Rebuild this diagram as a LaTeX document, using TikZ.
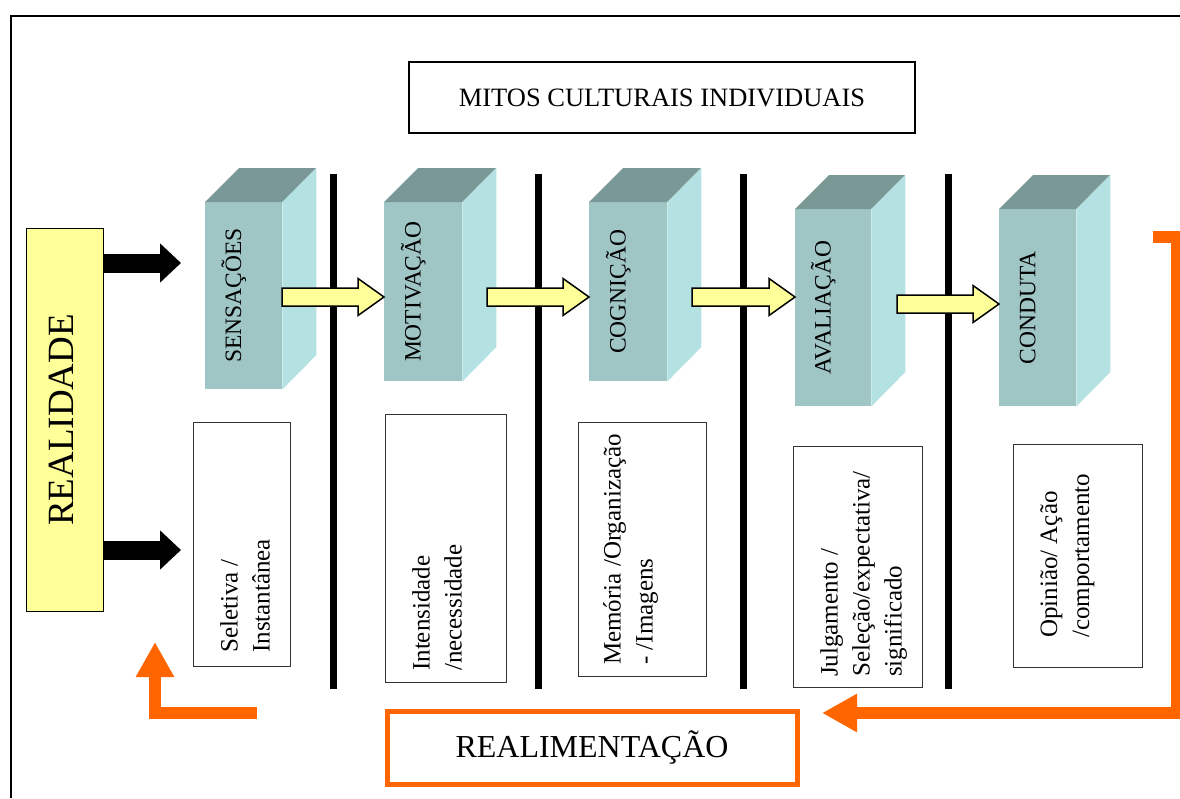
\documentclass[tikz,border=0pt]{standalone}
\usepackage{fontspec}
\setmainfont{Liberation Serif}
\usetikzlibrary{arrows.meta, calc}

\definecolor{realyellow}{HTML}{FFFF99}
\definecolor{feedorange}{HTML}{FF6600}
\definecolor{facefront}{RGB}{159,197,197}
\definecolor{facetop}{RGB}{122,153,150}
\definecolor{faceside}{RGB}{180,225,225}

\tikzset{
  stageface/.style={fill=facefront, inner sep=0pt, anchor=north west},
  stagelabel/.style={rotate=90, inner sep=0pt, font=\fontsize{23.5}{28}\selectfont},
  descbox/.style={draw=black!80, line width=1pt, inner sep=0pt, anchor=north west},
  desctext/.style={rotate=90, anchor=north west, align=left, inner sep=0pt, font=\fontsize{25}{32}\selectfont},
  bigarrow/.style={line width=19pt, -{Triangle[length=21pt, width=38pt]}},
  feedarrow/.style={feedorange, line width=12pt, line join=miter, -{Triangle[length=35pt, width=36pt]}},
  yarrow/.style={fill=realyellow, draw=black, line width=1.5pt, line join=miter},
}

% box with depth: name, left, top, right, bottom of the front face
\newcommand{\stagebox}[5]{%
  \node[stageface, minimum width={(#4-#2)*1pt}, minimum height={(#5-#3)*1pt}] (#1) at (#2,#3) {};
  \fill[facetop] (#1.north west) -- ++(34,-34) -- ++({#4-#2},0) -- (#1.north east) -- cycle;
  \fill[faceside] (#1.north east) -- ++(34,-34) -- ++(0,{#5-#3}) -- (#1.south east) -- cycle;
}

% yellow block arrow from tail to tip
\newcommand{\flowarrow}[2]{%
  \filldraw[yarrow] ($(#1)+(0,-9)$) -- ($(#2)+(-26,-9)$) -- ($(#2)+(-26,-18.5)$) -- (#2)
    -- ($(#2)+(-26,18.5)$) -- ($(#2)+(-26,9)$) -- ($(#1)+(0,9)$) -- cycle;
}

\begin{document}
\begin{tikzpicture}[x=1pt, y=-1pt]
        \useasboundingbox (0,0) rectangle (1180,798);

        % The frame
        \draw[line width=2pt] (11,798) -- (11,16) -- (1180,16);

        % Top box
        \node[draw, line width=2pt, minimum width=506pt, minimum height=71pt,
              font=\fontsize{26.5}{30}\selectfont] (mitos) at (662,97.5) {MITOS CULTURAIS INDIVIDUAIS};

        % Reality
        \node[draw, fill=realyellow, line width=1pt, minimum width=77pt, minimum height=383pt,
              anchor=north west] (real) at (26,228) {};
        \node[rotate=90, font=\fontsize{37}{40}\selectfont] (realtext) at ([xshift=-4pt]real.center) {REALIDADE};

        \coordinate (in1) at (181,263);
        \coordinate (in2) at (181,550);
        \draw[bigarrow] (real.east |- in1) -- (in1);
        \draw[bigarrow] (real.east |- in2) -- (in2);

        % Dividers
        \foreach \x in {333,538,743,948}
            \draw[line width=7pt] (\x,174) -- (\x,689);

        % The stages
        \stagebox{sens}{205}{202}{282}{389}
        \stagebox{moti}{384}{202}{462}{381}
        \stagebox{cogn}{589}{202}{667}{381}
        \stagebox{aval}{795}{209}{871}{406}
        \stagebox{cond}{999}{209}{1076}{406}

        \node[stagelabel] at ([xshift=-10pt]sens.center) {SENSAÇÕES};
        \node[stagelabel] at ([xshift=-10pt]moti.center) {MOTIVAÇÃO};
        \node[stagelabel] at ([xshift=-10pt]cogn.center) {COGNIÇÃO};
        \node[stagelabel] at ([xshift=-10pt]aval.center) {AVALIAÇÃO};
        \node[stagelabel] at ([xshift=-10pt]cond.center) {CONDUTA};

        % Flow between stages
        \coordinate (t1) at (282,297);
        \coordinate (t2) at (487,297);
        \coordinate (t3) at (692,297);
        \coordinate (t4) at (897,304);
        \flowarrow{t1}{moti.west |- t1}
        \flowarrow{t2}{cogn.west |- t2}
        \flowarrow{t3}{aval.west |- t3}
        \flowarrow{t4}{cond.west |- t4}

        % Descriptions
        \node[descbox, minimum width=97pt, minimum height=244pt] (selbox) at (193,422) {};
        \node[descbox, minimum width=121pt, minimum height=268pt] (intbox) at (385,414) {};
        \node[descbox, minimum width=128pt, minimum height=254pt] (membox) at (578,422) {};
        \node[descbox, minimum width=129pt, minimum height=241pt] (julbox) at (793,446) {};
        \node[descbox, minimum width=129pt, minimum height=223pt] (opibox) at (1013,444) {};

        \node[desctext] (seltext) at (220,653) {Seletiva /\\Instantânea};
        \node[desctext] (inttext) at (412,671) {Intensidade\\/necessidade};
        \node[desctext] (memtext) at (603,665) {Memória /Organização\\- /Imagens};
        \node[desctext] (jultext) at (820,677) {Julgamento /\\Seleção/expectativa/\\significado};
        \node[desctext] (opitext) at (1040,638) {Opinião/ Ação\\/comportamento};

        % Feedback
        \node[draw=feedorange, line width=5pt, minimum width=410pt, minimum height=73pt,
              font=\fontsize{32}{36}\selectfont] (realim) at (592,747.5) {REALIMENTAÇÃO};

        \coordinate (fb1) at (257,713);
        \coordinate (fb2) at (155,642);
        \coordinate (fb3) at (1153,237);
        \coordinate (fb4) at (822,713);
        \draw[feedarrow] (fb1) -| (fb2);
        \draw[feedarrow] (fb3) -- ++(24,0) |- (fb4);
\end{tikzpicture}
\end{document}
